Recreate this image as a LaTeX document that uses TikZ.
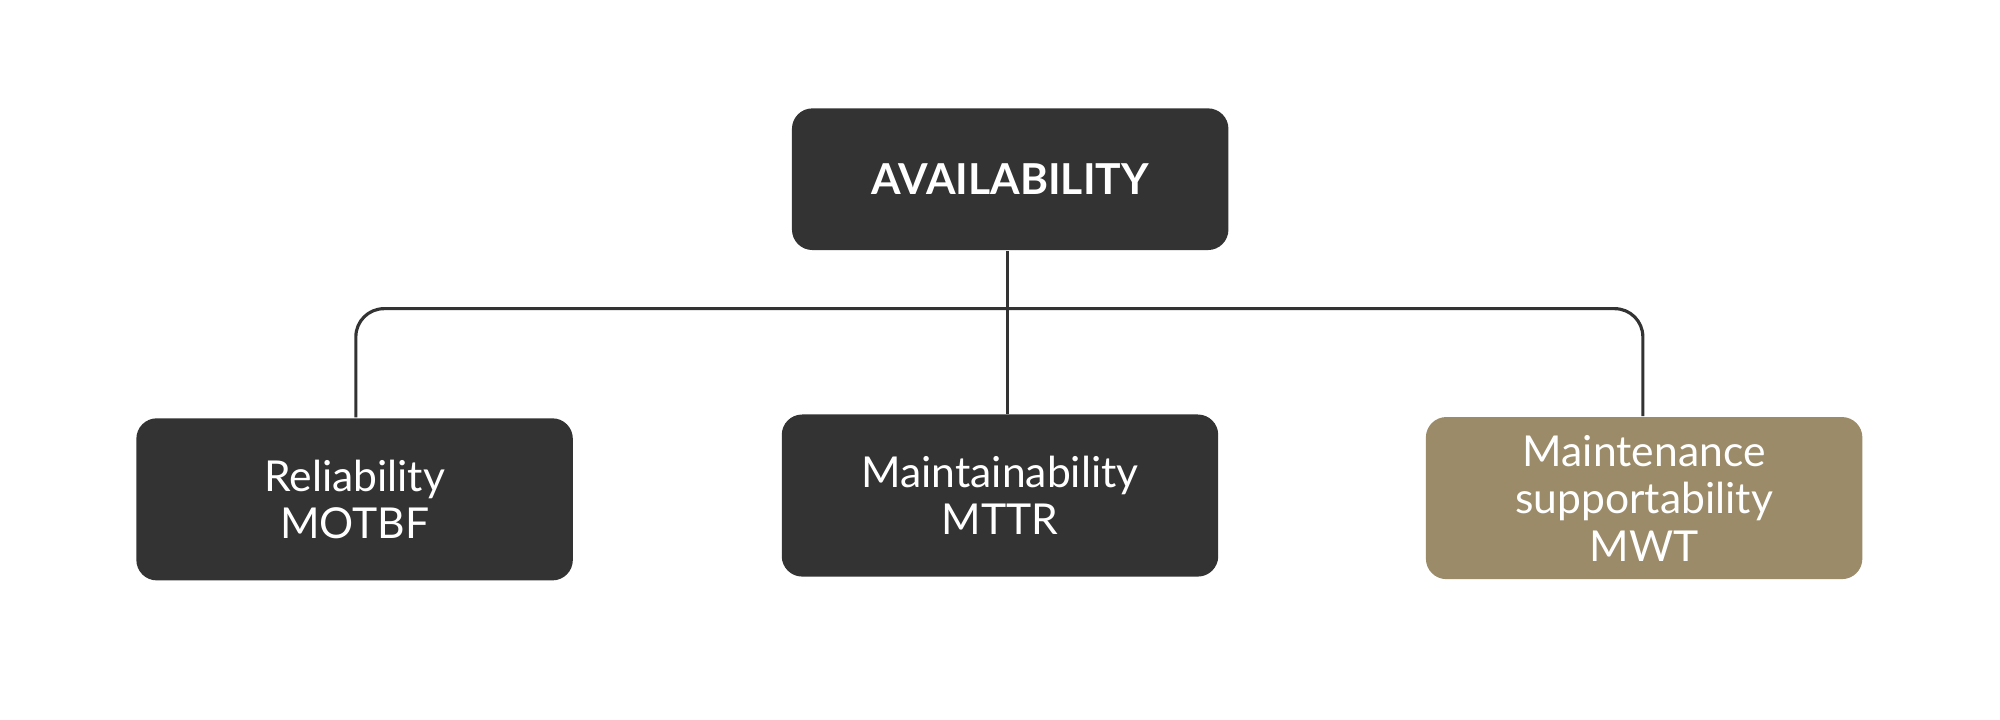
\documentclass[tikz,border=0pt]{standalone}
\usepackage{fontspec}
\setmainfont{Lato}
\definecolor{dk}{HTML}{333333}
\definecolor{gold}{HTML}{9B8B69}
\begin{document}
\begin{tikzpicture}[x=0.01cm,y=-0.01cm,
 box/.style={rounded corners=0.16cm,fill=dk,text=white,font=\fontsize{9.5}{10.6}\selectfont,align=center,inner sep=0pt,minimum width=3.42cm,minimum height=1.27cm},
 ln/.style={draw=dk,line width=0.7pt}]
\useasboundingbox (0,0) rectangle (1568,564);
\node[box,minimum height=1.11cm,font=\fontsize{9.5}{11}\selectfont\bfseries] (top) at (792,140.5) {AVAILABILITY};
\node[box] (rel) at (278,391.5) {Reliability\\MOTBF};
\node[box] (mai) at (784,388.5) {Maintainability\\MTTR};
\node[box,fill=gold] (sup) at (1289,390.5) {Maintenance\\supportability\\MWT};
\coordinate (h) at (790,242);
\draw[ln] (top.south -| h) -- (mai.north -| h);
\draw[ln,rounded corners=0.22cm] (rel.north -| 279,0) -- (279,242) -- (1288,242) -- (sup.north -| 1288,0);
\end{tikzpicture}
\end{document}
